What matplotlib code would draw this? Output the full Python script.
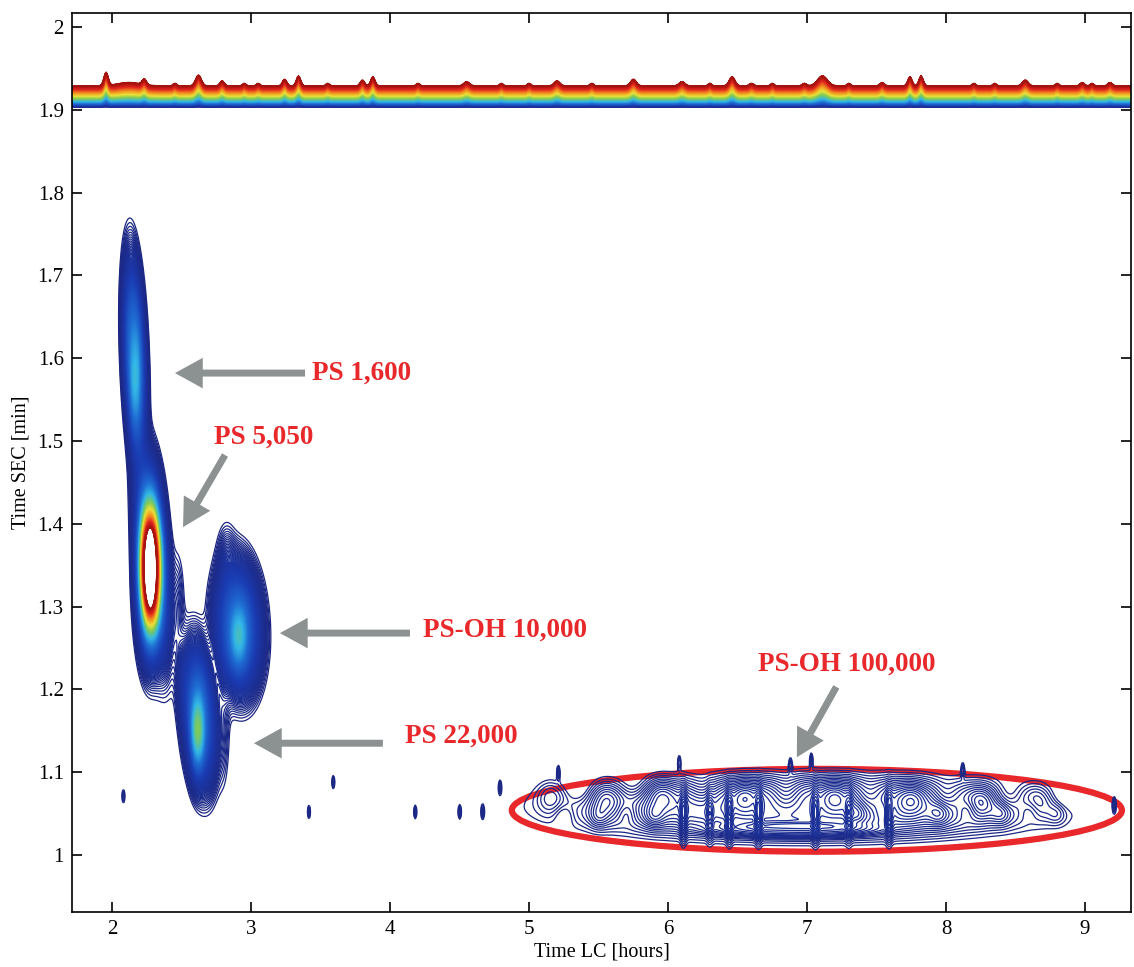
import numpy as np
import matplotlib.pyplot as plt
from matplotlib.colors import LinearSegmentedColormap
from matplotlib.patches import Ellipse

plt.rcParams['font.family'] = ['Liberation Serif', 'DejaVu Serif']

# main peaks: broad plateau part (LC time [h], SEC time [min], height, widths, tilt dx/dy)
plat_x = [2.160, 2.290, 2.905, 2.625]
plat_y = [1.600, 1.360, 1.275, 1.170]
plat_h = [0.25, 0.20, 0.21, 0.21]
plat_sx = [0.055, 0.078, 0.120, 0.085]
plat_sy = [0.085, 0.090, 0.058, 0.063]
plat_tilt = [-0.20, -0.50, -0.20, -0.35]

# sharper cores on top of them
core_x = [2.165, 2.272, 2.910, 2.615]
core_y = [1.575, 1.345, 1.265, 1.150]
core_h = [0.14, 1.40, 0.20, 0.30]
core_sx = [0.024, 0.045, 0.040, 0.030]
core_sy = [0.040, 0.048, 0.025, 0.030]

# loose low level fringes around the peaks
fringe_x = [2.47, 2.82, 2.80, 2.50]
fringe_y = [1.30, 1.36, 1.16, 1.22]
fringe_h = [0.025, 0.025, 0.020, 0.020]
fringe_sx = [0.030, 0.040, 0.030, 0.030]
fringe_sy = [0.040, 0.025, 0.050, 0.030]

# PS-OH 100,000 : broad flat region
broad_x = [7.00, 6.90]
broad_y = [1.058, 1.030]
broad_h = [0.045, 0.015]
broad_sx = [1.34, 0.50]
broad_sy = [0.031, 0.008]
broad_p = [1.5, 2.0]

streak_x = [6.11, 6.44, 6.65, 7.06, 7.59, 6.30, 7.30]
streak_h = [0.020, 0.018, 0.018, 0.018, 0.018, 0.012, 0.012]

ripple_x = [5.15, 5.35, 5.55, 5.75, 5.95, 6.25, 6.55, 6.85, 7.20, 7.45, 7.75, 8.00, 8.25, 8.45, 8.65, 8.85,
            5.25, 5.50, 5.70, 5.90, 7.35, 7.55, 7.95, 8.15, 8.40, 8.60, 8.80]
ripple_y = [1.072, 1.078, 1.070, 1.080, 1.075, 1.078, 1.072, 1.075, 1.070, 1.072, 1.068, 1.070, 1.066, 1.070, 1.066, 1.068,
            1.048, 1.045, 1.050, 1.046, 1.050, 1.052, 1.050, 1.054, 1.050, 1.054, 1.050]
ripple_h = [0.012, -0.010, 0.012, -0.010, 0.012, -0.010, 0.012, -0.012, 0.012, -0.012, 0.012, -0.012, 0.012, -0.012, 0.010, -0.010,
            -0.010, 0.010, -0.010, 0.010, 0.010, -0.010, 0.010, -0.010, 0.010, -0.010, 0.010]
ripple_sx = [0.07] * 16 + [0.05] * 11
ripple_sy = [0.014] * 16 + [0.010] * 11

# isolated specks
speck_x = [2.08, 3.415, 3.59, 4.18, 4.50, 4.665, 4.79, 5.21, 6.08, 6.88, 7.03, 8.12, 9.21]
speck_y = [1.071, 1.052, 1.088, 1.052, 1.052, 1.052, 1.082, 1.100, 1.112, 1.109, 1.115, 1.103, 1.060]

# solvent band near 1.9 min
band_bottom = 1.904
band_top = 1.929
spike_x = [1.955, 2.12, 2.23, 2.45, 2.62, 2.79, 2.95, 3.05, 3.24, 3.34, 3.55, 3.80, 3.875, 4.20, 4.55, 4.80,
           5.00, 5.20, 5.45, 5.75, 6.10, 6.30, 6.46, 6.60, 6.75, 6.98, 7.11, 7.30, 7.54, 7.74, 7.82, 8.20,
           8.35, 8.57, 8.80, 8.98, 9.05, 9.18]
spike_dy = [0.016, 0.004, 0.007, 0.003, 0.013, 0.006, 0.003, 0.003, 0.008, 0.012, 0.003, 0.007, 0.011, 0.003, 0.005, 0.003,
            0.003, 0.006, 0.003, 0.008, 0.005, 0.003, 0.011, 0.003, 0.003, 0.003, 0.012, 0.003, 0.004, 0.011, 0.012, 0.003,
            0.003, 0.007, 0.003, 0.004, 0.003, 0.004]
spike_w = [0.015, 0.08, 0.015, 0.012, 0.02, 0.015, 0.012, 0.012, 0.015, 0.015, 0.012, 0.015, 0.015, 0.012, 0.02, 0.012,
           0.012, 0.02, 0.012, 0.02, 0.02, 0.012, 0.02, 0.015, 0.012, 0.015, 0.035, 0.012, 0.015, 0.015, 0.015, 0.012,
           0.012, 0.02, 0.012, 0.015, 0.012, 0.015]

labels = ['PS 1,600', 'PS 5,050', 'PS-OH 10,000', 'PS 22,000', 'PS-OH 100,000']
label_x = [3.437, 3.091, 4.235, 4.106, 7.282]
label_y = [1.582, 1.504, 1.272, 1.143, 1.230]
label_ha = ['left', 'center', 'left', 'left', 'center']
tip_x = [2.451, 2.509, 3.206, 3.019, 6.926]
tip_y = [1.582, 1.396, 1.268, 1.135, 1.118]
tail_x = [3.387, 2.811, 4.142, 3.947, 7.210]
tail_y = [1.582, 1.483, 1.268, 1.135, 1.203]


def blob(X, Y, x0, y0, h, sx, sy, tilt=0.0, p=1.0):
    dx = (X - x0 - tilt * (Y - y0)) / sx
    dy = (Y - y0) / sy
    return h * np.exp(-0.5 * (dx**2 + dy**2)**p)


x = np.arange(1.70, 9.34, 0.008)
y = np.arange(0.93, 2.02, 0.0012)
X, Y = np.meshgrid(x, y)

Z = np.zeros_like(X)
for i in range(len(plat_x)):
    Z += blob(X, Y, plat_x[i], plat_y[i], plat_h[i], plat_sx[i], plat_sy[i], plat_tilt[i], p=1.4)
for i in range(len(core_x)):
    Z += blob(X, Y, core_x[i], core_y[i], core_h[i], core_sx[i], core_sy[i])
for i in range(len(fringe_x)):
    Z += blob(X, Y, fringe_x[i], fringe_y[i], fringe_h[i], fringe_sx[i], fringe_sy[i])
for i in range(len(broad_x)):
    Z += blob(X, Y, broad_x[i], broad_y[i], broad_h[i], broad_sx[i], broad_sy[i], p=broad_p[i])
for i in range(len(streak_x)):
    Z += blob(X, Y, streak_x[i], 1.045, streak_h[i], 0.015, 0.022)
for i in range(len(ripple_x)):
    Z += blob(X, Y, ripple_x[i], ripple_y[i], ripple_h[i], ripple_sx[i], ripple_sy[i])
for i in range(len(speck_x)):
    Z += blob(X, Y, speck_x[i], speck_y[i], 0.02, 0.008, 0.006)

top = band_top + np.zeros_like(x)
for i in range(len(spike_x)):
    top += spike_dy[i] * np.exp(-0.5 * ((x - spike_x[i]) / spike_w[i])**2)
Z += np.clip((Y - band_bottom) / (top[None, :] - band_bottom), 0, None)**0.75

# muted jet, as in the printed figure
cmap = LinearSegmentedColormap.from_list('mjet', [
    (0.00, '#1c2680'), (0.12, '#1a3cb4'), (0.25, '#1f6ed4'), (0.37, '#33b8e8'),
    (0.50, '#7fcc5a'), (0.62, '#ece33a'), (0.75, '#f3901f'), (0.88, '#e3261f'),
    (1.00, '#a3130f')])

levels = np.concatenate([np.linspace(0.008, 0.08, 25, endpoint=False), np.linspace(0.08, 1.0, 180)])

fig = plt.figure(figsize=(11.34, 9.67), dpi=100)
ax = fig.add_axes([0.0635, 0.0569, 0.9339, 0.9297])

ax.contourf(X, Y, Z, levels=levels[levels >= 0.075], cmap=cmap, vmin=0, vmax=1)
ax.contour(X, Y, Z, levels=levels, cmap=cmap, vmin=0, vmax=1, linewidths=0.9)

ax.add_patch(Ellipse((7.07, 1.054), 4.39, 0.100, fill=False, edgecolor='#e8282b', lw=4.5))

for i in range(len(labels)):
    ax.annotate('', xy=(tip_x[i], tip_y[i]), xytext=(tail_x[i], tail_y[i]),
                arrowprops=dict(facecolor='#8c9192', edgecolor='none', width=5,
                                headwidth=22, headlength=20, shrink=0))
    ax.text(label_x[i], label_y[i], labels[i], color='#e8282b', fontsize=19.5,
            fontweight='bold', ha=label_ha[i], va='center')

ax.set_xlim(1.710, 9.331)
ax.set_ylim(0.9312, 2.0169)
ax.set_xticks([2, 3, 4, 5, 6, 7, 8, 9])
ax.set_yticks([1, 1.1, 1.2, 1.3, 1.4, 1.5, 1.6, 1.7, 1.8, 1.9, 2])
ax.set_yticklabels(['1', '1.1', '1.2', '1.3', '1.4', '1.5', '1.6', '1.7', '1.8', '1.9', '2'])
ax.tick_params(direction='in', length=7, width=1.2, top=True, right=True, labelsize=15, pad=6)
for s in ax.spines.values():
    s.set_linewidth(1.2)
ax.set_xlabel('Time LC [hours]', fontsize=14.5, labelpad=2)
ax.set_ylabel('Time SEC [min]', fontsize=14.5, labelpad=5)

fig.savefig('out.png', dpi=100)
